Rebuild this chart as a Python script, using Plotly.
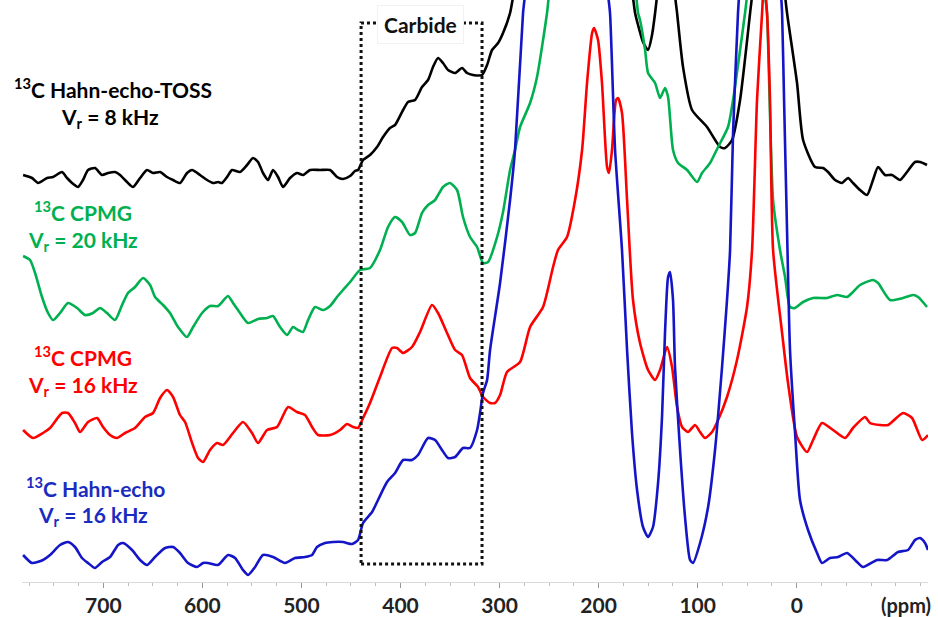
import plotly.graph_objects as go

# ---------------------------------------------------------------
# 13C NMR spectra (chemical shift in ppm, intensity in arbitrary units
# relative to each spectrum's own baseline). Very large peaks run off
# the top of the frame; their apex values are only rough.
# ---------------------------------------------------------------

# 13C Hahn-echo-TOSS, Vr = 8 kHz
toss_ppm = [781.0, 772.0, 765.9, 756.8, 750.8, 741.7, 736.6, 731.6, 725.5, 720.5,
            715.4, 708.4, 701.3, 695.2, 688.2, 683.1, 676.1, 670.0, 662.9, 655.9,
            649.8, 642.7, 635.7, 629.6, 622.6, 615.5, 610.4, 602.4, 595.3, 589.2,
            584.2, 580.2, 575.1, 570.1, 562.0, 554.9, 548.9, 543.8, 538.8, 533.7,
            528.7, 523.6, 518.6, 511.5, 504.5, 498.4, 491.3, 481.2, 471.1, 464.1,
            458.0, 450.9, 445.9, 442.9, 437.8, 430.8, 423.7, 417.6, 410.6, 405.5,
            397.4, 392.4, 385.3, 378.3, 372.2, 367.2, 362.1, 357.1, 352.0, 344.9,
            337.9, 332.8, 326.8, 317.7, 312.6, 307.6, 301.5, 296.5, 289.4, 285.4,
            230.0, 166.3, 163.2, 160.2, 155.2, 150.1, 146.1, 143.0, 141.0, 130.0,
            122.9, 120.8, 114.8, 105.7, 90.6, 77.4, 72.4, 65.3, 57.2, 47.1,
            45.1, 30.0, 11.8, 9.8, -0.3, -6.4, -18.5, -26.6, -31.6, -38.7,
            -45.7, -51.8, -56.8, -63.9, -71.0, -77.0, -82.1, -89.1, -96.2, -104.3,
            -111.3, -119.4, -124.5, -131.5]
toss_int = [2, -1, -6, -1, 0, 5, -1, -6, -10, -3,
            7, 9, 2, 4, 5, 2, -5, -10, -1, 7,
            4, 5, 0, -3, -6, 4, 7, 2, -3, -6,
            -5, -6, 0, 7, 5, 12, 19, 15, 4, -3,
            7, 0, -10, -1, 4, 2, 7, 7, 7, 0,
            -2, 1, 6, 7, 17, 22, 30, 40, 49, 52,
            67, 75, 77, 90, 97, 110, 119, 114, 107, 104,
            109, 104, 102, 102, 112, 127, 134, 144, 164, 185,
            420, 185, 164, 152, 135, 127, 142, 164, 182, 330,
            182, 164, 110, 67, 50, 30, 29, 37, 77, 164,
            182, 480, 182, 164, 94, 37, 10, 9, 5, -3,
            -6, -1, -6, -13, -18, -3, 10, 2, 2, -3,
            5, 15, 15, 12]

# 13C CPMG, Vr = 20 kHz
cpmg20_ppm = [781.0, 774.0, 768.9, 761.9, 755.8, 750.8, 743.7, 735.6, 726.5, 718.5,
              710.4, 703.3, 696.3, 688.2, 681.1, 675.1, 668.0, 659.9, 652.8, 647.8,
              639.7, 632.7, 624.6, 615.5, 609.4, 600.3, 592.3, 584.2, 574.1, 569.1,
              562.0, 553.9, 543.8, 534.7, 528.7, 521.6, 514.5, 508.5, 503.4, 498.4,
              493.3, 486.3, 478.2, 471.1, 464.1, 458.0, 450.9, 440.9, 430.8, 420.7,
              412.6, 405.5, 398.4, 390.4, 385.3, 378.3, 372.2, 365.1, 357.1, 350.0,
              342.9, 336.9, 329.8, 322.7, 316.7, 311.6, 302.5, 296.5, 289.4, 284.4,
              279.3, 269.2, 262.2, 252.1, 250.1, 205.0, 162.2, 160.2, 158.2, 153.1,
              150.1, 143.0, 138.0, 133.0, 129.9, 124.9, 119.8, 110.7, 100.6, 95.6,
              87.5, 79.4, 69.4, 64.3, 57.2, 52.2, 50.2, 41.0, 32.0, 30.0,
              23.9, 16.9, 11.8, 6.8, 1.7, -6.4, -16.5, -30.6, -40.7, -50.8,
              -55.8, -63.9, -77.0, -82.1, -94.2, -107.3, -117.4, -122.5, -131.5]
cpmg20_int = [54, 50, 37, 13, -3, -10, -3, 7, 2, -5,
              -3, 2, -3, -10, 5, 17, 23, 32, 25, 13,
              5, -3, -17, -27, -17, -3, 4, 4, 14, 7,
              -3, -13, -9, -8, -6, -17, -25, -17, -20, -22,
              -10, 3, 0, 4, 13, 20, 28, 40, 42, 60,
              83, 93, 88, 75, 77, 97, 105, 110, 123, 127,
              120, 93, 73, 63, 47, 48, 73, 98, 140, 160,
              183, 207, 233, 297, 315, 620, 315, 297, 290, 260,
              237, 227, 212, 222, 213, 160, 147, 140, 128, 137,
              147, 163, 183, 210, 260, 297, 315, 560, 315, 297,
              110, 60, 33, 3, 2, 8, 12, 12, 15, 13,
              17, 25, 30, 27, 10, 12, 15, 13, 3]

# 13C CPMG, Vr = 16 kHz
cpmg16_ppm = [781.0, 771.0, 760.9, 753.8, 741.7, 735.6, 728.6, 723.5, 715.4, 706.3,
              700.3, 693.2, 686.2, 678.1, 668.0, 657.9, 649.8, 642.7, 635.7, 629.6,
              622.6, 617.5, 610.4, 604.4, 599.3, 592.3, 585.2, 579.2, 569.1, 559.0,
              549.9, 543.8, 534.7, 524.6, 513.5, 504.5, 496.4, 489.3, 483.3, 471.1,
              461.0, 454.0, 447.9, 442.9, 437.8, 430.8, 420.7, 408.5, 403.5, 397.4,
              388.4, 380.3, 368.2, 362.1, 353.0, 344.9, 337.9, 329.8, 321.7, 316.7,
              309.6, 304.6, 299.5, 292.5, 279.3, 269.2, 256.1, 246.0, 241.0, 231.9,
              223.8, 216.7, 211.7, 206.6, 204.6, 200.6, 196.6, 191.5, 189.5, 186.5,
              182.4, 180.4, 176.4, 171.3, 165.3, 158.2, 150.1, 143.0, 138.0, 130.9,
              125.9, 120.8, 115.8, 109.7, 102.7, 97.6, 92.6, 85.5, 79.4, 70.4,
              60.3, 50.2, 45.1, 40.1, 35.0, 33.0, 30.0, 27.0, 23.9, 14.8,
              8.8, -0.3, -10.4, -16.5, -25.5, -36.6, -48.8, -56.8, -68.9, -74.0,
              -84.1, -92.2, -107.3, -116.4, -126.5, -132.5]
cpmg16_int = [0, -8, -3, 2, 17, 17, 7, -2, 8, 12,
              3, -5, -8, -3, 2, 13, 17, 32, 40, 33,
              15, 8, -13, -28, -32, -20, -13, -15, -3, 8,
              -3, -13, 0, 3, 23, 18, 15, 3, -5, -5,
              0, 6, 3, 2, 12, 27, 53, 82, 82, 77,
              83, 98, 125, 117, 97, 80, 75, 52, 43, 33,
              27, 27, 35, 58, 68, 103, 123, 163, 180, 193,
              230, 280, 347, 397, 402, 390, 347, 263, 257, 280,
              330, 332, 317, 230, 130, 87, 60, 50, 60, 83,
              63, 23, 3, -2, 5, -2, -8, -2, 10, 33,
              70, 123, 180, 330, 417, 450, 417, 330, 180, 97,
              47, -7, -22, -10, 7, 0, -8, 2, 13, 7,
              5, 5, 17, 12, -10, -5]

# 13C Hahn-echo, Vr = 16 kHz
hahn_ppm = [781.0, 772.0, 760.9, 753.8, 743.7, 735.6, 728.6, 721.5, 715.4, 708.4,
            701.3, 693.2, 685.1, 680.1, 671.0, 662.9, 655.9, 647.8, 637.7, 629.6,
            622.6, 614.5, 605.4, 599.3, 594.3, 584.2, 574.1, 567.0, 559.0, 553.9,
            546.8, 538.8, 528.7, 516.6, 506.5, 496.4, 489.3, 484.3, 476.2, 468.1,
            458.0, 448.9, 442.9, 437.8, 428.7, 422.7, 413.6, 405.5, 397.4, 388.4,
            382.3, 372.2, 365.1, 358.1, 352.0, 344.9, 336.9, 329.8, 322.7, 319.7,
            316.7, 312.6, 309.6, 299.5, 289.4, 284.4, 276.3, 274.3, 232.0, 190.5,
            188.5, 183.4, 176.4, 171.3, 166.3, 161.2, 155.2, 150.1, 145.1, 140.0,
            136.0, 133.0, 129.9, 127.9, 124.9, 122.9, 117.8, 112.8, 107.7, 104.7,
            97.6, 89.5, 82.5, 75.4, 70.4, 67.3, 64.3, 59.3, 58.2, 37.0,
            15.8, 14.8, 12.8, 9.8, 6.8, 1.7, -3.3, -11.4, -20.5, -25.5,
            -33.6, -41.7, -50.8, -60.9, -66.9, -81.1, -91.2, -102.3, -112.4, -119.4,
            -124.5, -129.5, -132.5]
hahn_int = [2, -6, -3, 2, 12, 15, 10, -1, -6, -11,
            -5, 0, 12, 14, 7, -3, -8, 0, 9, 10,
            4, -6, -10, -6, -6, -8, 2, -1, -13, -18,
            -10, 2, 0, -6, -1, 0, 2, 10, 14, 15,
            15, 13, 17, 34, 45, 57, 75, 84, 97, 97,
            102, 119, 117, 107, 99, 100, 109, 109, 127, 144,
            164, 177, 207, 274, 357, 407, 544, 562, 880, 562,
            544, 407, 307, 207, 124, 67, 30, 20, 30, 74,
            140, 224, 280, 285, 257, 190, 107, 40, -3, -6,
            14, 50, 107, 190, 257, 307, 424, 544, 562, 900,
            562, 544, 457, 327, 207, 124, 57, 27, 4, -6,
            -1, 0, 4, -5, -10, -3, -3, 5, 7, 17,
            19, 14, 7]

x_ticks = [700, 600, 500, 400, 300, 200, 100, 0]
carbide_window = [439.8, 317.7]   # ppm limits of the carbide region

# ---------------------------------------------------------------
# stacking, colours and labels
# ---------------------------------------------------------------
spectra = [
    (toss_ppm, toss_int, 405, "#000000"),
    (cpmg20_ppm, cpmg20_int, 272, "#00b050"),
    (cpmg16_ppm, cpmg16_int, 152, "#ff0000"),
    (hahn_ppm, hahn_int, 25, "#1515c8"),
]

FONT = "Lato"
W_FIG, H_FIG = 938, 617
L, R, T, B = 22, 10, 0, 35
PW, PH = W_FIG - L - R, H_FIG - T - B

fig = go.Figure()
for ppm, inten, offset, color in spectra:
    fig.add_trace(go.Scatter(
        x=ppm, y=[v + offset for v in inten], mode="lines",
        line=dict(color=color, width=2.6, shape="spline", smoothing=0.6),
        hoverinfo="skip"))


def paper(px, py):
    """pixel position in the figure -> paper coordinates"""
    return (px - L) / PW, (T + PH - py) / PH


labels = [
    ("<sup>13</sup>C Hahn-echo-TOSS", 113, 88, "#000000"),
    ("V<sub>r</sub> = 8 kHz", 110, 118, "#000000"),
    ("<sup>13</sup>C CPMG", 83, 211, "#00b050"),
    ("V<sub>r</sub> = 20 kHz", 83, 241, "#00b050"),
    ("<sup>13</sup>C CPMG", 83, 356, "#ff0000"),
    ("V<sub>r</sub> = 16 kHz", 83, 386, "#ff0000"),
    ("<sup>13</sup>C Hahn-echo", 95, 487, "#1a2cc0"),
    ("V<sub>r</sub> = 16 kHz", 93, 516, "#1a2cc0"),
]
for text, px, py, color in labels:
    ax, ay = paper(px, py)
    fig.add_annotation(x=ax, y=ay, xref="paper", yref="paper", text=text,
                       showarrow=False, xanchor="center", yanchor="middle",
                       font=dict(family=FONT, size=21, color=color, weight="bold"))

# carbide region box
fig.add_shape(type="rect", xref="x", yref="y",
              x0=carbide_window[0], x1=carbide_window[1], y0=18, y1=559,
              line=dict(color="#111111", width=3, dash="dot"), layer="above")
cx, cy = paper(420, 25)
fig.add_annotation(x=cx, y=cy, xref="paper", yref="paper", text="Carbide",
                   showarrow=False, xanchor="center", yanchor="middle",
                   bgcolor="white", bordercolor="#f2f2f2", borderwidth=1, borderpad=6,
                   font=dict(family=FONT, size=21, color="#111111", weight="bold"))

ux, uy = paper(906, 605)
fig.add_annotation(x=ux, y=uy, xref="paper", yref="paper", text="(ppm)",
                   showarrow=False, xanchor="center", yanchor="middle",
                   font=dict(family=FONT, size=20, color="#222222", weight="bold"))

fig.update_layout(
    width=W_FIG, height=H_FIG,
    margin=dict(l=L, r=R, t=T, b=B),
    plot_bgcolor="white", paper_bgcolor="white",
    showlegend=False,
    xaxis=dict(range=[782.1, -132.5], tickvals=x_ticks,
               ticktext=[str(v) for v in x_ticks],
               ticks="outside", ticklen=5, tickwidth=1, tickcolor="#999999",
               showline=True, linecolor="#dadada", linewidth=1,
               showgrid=False, zeroline=False,
               tickfont=dict(family=FONT, size=21, color="#222222", weight="bold"),
               minor=dict(dtick=25, tick0=0, ticks="outside", ticklen=3,
                          tickcolor="#bbbbbb", showgrid=False)),
    yaxis=dict(range=[0, PH], visible=False, fixedrange=True),
)

fig.write_html("out.html")
